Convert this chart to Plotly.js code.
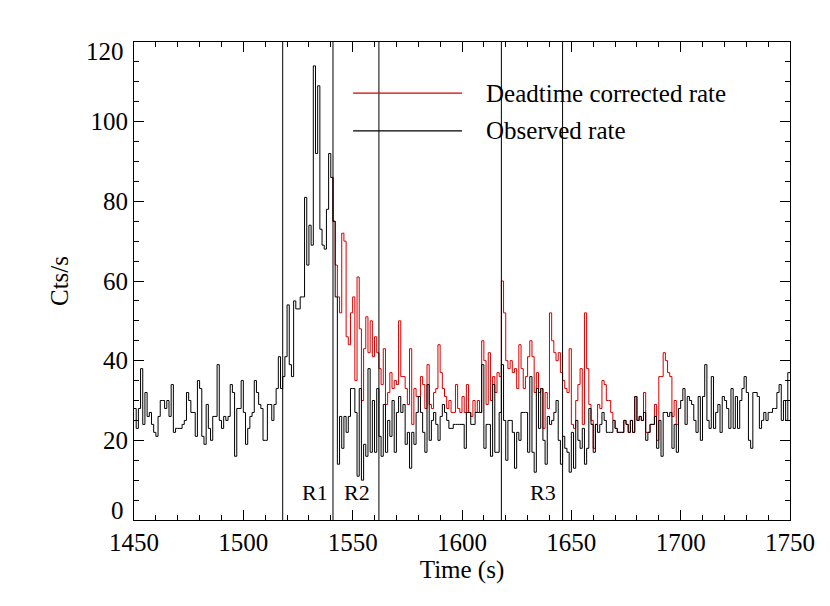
<!DOCTYPE html>
<html>
<head>
<meta charset="utf-8">
<script src="https://cdn.plot.ly/plotly-3.0.1.min.js"></script>
<style>body{margin:0;background:#fff}</style>
</head>
<body>
<div id="chart" style="width:830px;height:606px"></div>
<script>
// Light curve: observed vs deadtime corrected count rate, 1 s bins

const observedStart = 1450;
const observedRate = [
    28, 23, 28, 38, 24, 32, 26, 27, 24, 22,
    21, 26, 30, 30, 28, 30, 26, 34, 22, 23,
    23, 23, 24, 25, 32, 30, 27, 27, 21, 35,
    33, 21, 19, 29, 23, 20, 26, 26, 39, 25,
    23, 26, 25, 26, 34, 32, 16, 28, 28, 35,
    27, 19, 23, 26, 27, 35, 32, 29, 28, 20,
    20, 29, 29, 25, 29, 33, 41, 33, 36, 41,
    54, 39, 36, 55, 53, 53, 56, 56, 81, 64,
    74, 69, 114, 92, 109, 73, 69, 68, 78, 92,
    86, 75, 56, 14, 26, 18, 26, 22, 26, 33,
    33, 27, 11, 33, 10, 19, 16, 38, 17, 30,
    17, 33, 21, 16, 29, 17, 25, 21, 30, 17,
    27, 31, 27, 29, 19, 22, 13, 22, 19, 27,
    31, 27, 22, 17, 34, 20, 25, 27, 24, 20,
    26, 29, 27, 25, 23, 23, 24, 24, 24, 24,
    24, 18, 27, 27, 24, 24, 27, 27, 27, 39,
    18, 24, 24, 16, 34, 17, 17, 27, 39, 25,
    15, 25, 25, 22, 13, 22, 20, 27, 27, 27,
    17, 36, 17, 12, 33, 23, 33, 20, 14, 26,
    24, 25, 27, 30, 20, 14, 21, 18, 17, 12,
    22, 13, 25, 20, 18, 23, 14, 18, 28, 24,
    17, 24, 22, 24, 27, 25, 22, 22, 22, 25,
    23, 22, 22, 22, 25, 24, 22, 25, 22, 31,
    25, 26, 25, 27, 20, 22, 24, 24, 26, 18,
    25, 16, 27, 27, 26, 27, 18, 24, 17, 28,
    30, 33, 24, 31, 30, 29, 25, 22, 31, 20,
    31, 39, 25, 23, 36, 23, 27, 29, 22, 31,
    30, 28, 23, 33, 23, 31, 23, 30, 33, 36,
    32, 20, 18, 32, 32, 31, 23, 25, 27, 25,
    27, 27, 28, 28, 32, 34, 25, 30, 25, 37
];

const correctedStart = 1540;
const correctedRate = [
    86, 75, 64, 56, 52, 72, 70, 46, 44, 52,
    56, 35, 61, 48, 30, 43, 51, 42, 50, 41,
    46, 42, 38, 34, 43, 29, 32, 37, 33, 35,
    34, 50, 36, 36, 33, 29, 43, 24, 33, 31,
    31, 36, 34, 28, 39, 29, 28, 32, 33, 44,
    37, 33, 31, 28, 30, 27, 27, 34, 28, 27,
    31, 27, 34, 27, 26, 30, 27, 30, 27, 45,
    40, 29, 42, 30, 36, 32, 37, 36, 60, 52,
    40, 38, 40, 37, 38, 33, 44, 38, 33, 36,
    41, 45, 41, 32, 37, 32, 33, 23, 32, 28,
    52, 45, 42, 40, 42, 37, 35, 33, 32, 43,
    24, 23, 30, 34, 38, 24, 52, 38, 29, 25,
    18, 24, 29, 28, 35, 34, 30, 30, 27, 25,
    23, 22, 22, 22, 25, 24, 22, 25, 22, 31,
    25, 26, 25, 32, 22, 22, 24, 24, 29, 20,
    36, 36, 42, 40, 37, 36, 26, 30, 24
];

// interval boundaries and their labels
const regionEdges = [1518, 1541, 1562, 1618, 1646];
const regionLabels = ['R1', 'R2', 'R3'];
const regionLabelTimes = [1533, 1552, 1637];
const regionLabelRate = 7;

// y tick labels; the two end ones are pulled inside the frame like the original
const yTickVals = [0, 20, 40, 60, 80, 100, 120];
const yEndTicks = [0, 120];

const seriesNames = ['Deadtime corrected rate', 'Observed rate'];
const seriesColors = ['#d40000', '#000000'];

// bin starts plus one closing edge so the last bin gets drawn
function stepData(start, values) {
    const x = values.map((v, i) => start + i);
    x.push(start + values.length);
    const y = values.concat([values[values.length - 1]]);
    return {x: x, y: y};
}

const red = stepData(correctedStart, correctedRate);
const black = stepData(observedStart, observedRate);

const traces = [
    {x: red.x, y: red.y, mode: 'lines', type: 'scatter', line: {color: seriesColors[0], width: 1, shape: 'hv'}, name: seriesNames[0]},
    {x: black.x, y: black.y, mode: 'lines', type: 'scatter', line: {color: seriesColors[1], width: 1, shape: 'hv'}, name: seriesNames[1]}
];

const serif = 'Liberation Serif, Times New Roman, serif';

const shapes = regionEdges.map(t => ({
    type: 'line', xref: 'x', yref: 'paper', x0: t, x1: t, y0: 0, y1: 1,
    line: {color: '#000', width: 1}
}));

// hand-made legend lines, like the original
const legendY = [0.893, 0.814];
legendY.forEach((ly, i) => {
    shapes.push({
        type: 'line', xref: 'paper', yref: 'paper', x0: 0.334, x1: 0.5, y0: ly, y1: ly,
        line: {color: seriesColors[i], width: 1.2}
    });
});

const annotations = regionLabels.map((lab, i) => ({
    x: regionLabelTimes[i], y: regionLabelRate, xref: 'x', yref: 'y',
    text: lab, showarrow: false, font: {family: serif, size: 22, color: '#000'}
}));
legendY.forEach((ly, i) => {
    annotations.push({
        x: 0.534, y: ly, xref: 'paper', yref: 'paper', xanchor: 'left', yanchor: 'middle',
        text: seriesNames[i], showarrow: false, font: {family: serif, size: 25, color: '#000'}
    });
});
yEndTicks.forEach(v => {
    annotations.push({
        x: 0, y: v, xref: 'paper', yref: 'y', xanchor: 'right',
        yanchor: v === 0 ? 'bottom' : 'top', xshift: -8, yshift: v === 0 ? -6 : 6,
        text: String(v), showarrow: false, font: {family: serif, size: 25, color: '#000'}
    });
});

const axisCommon = {
    showline: true, linecolor: '#000', linewidth: 1, mirror: 'allticks',
    ticks: 'inside', ticklen: 10, tickcolor: '#000', tickwidth: 1,
    showgrid: false, zeroline: false,
    tickfont: {family: serif, size: 25, color: '#000'}
};

const layout = {
    width: 830, height: 606,
    margin: {l: 134, r: 40, t: 42, b: 86},
    paper_bgcolor: '#fff', plot_bgcolor: '#fff',
    showlegend: false,
    xaxis: Object.assign({}, axisCommon, {
        range: [1450, 1750], tick0: 1450, dtick: 50,
        minor: {ticks: 'inside', ticklen: 5, dtick: 10, tickcolor: '#000'},
        title: {text: 'Time (s)', font: {family: serif, size: 25, color: '#000'}, standoff: 4}
    }),
    yaxis: Object.assign({}, axisCommon, {
        range: [0, 120], tickmode: 'array', tickvals: yTickVals,
        ticktext: yTickVals.map(v => yEndTicks.includes(v) ? '' : String(v)),
        minor: {ticks: 'inside', ticklen: 5, dtick: 5, tickcolor: '#000'},
        title: {text: 'Cts/s', font: {family: serif, size: 25, color: '#000'}, standoff: 14}
    }),
    shapes: shapes,
    annotations: annotations
};

Plotly.newPlot('chart', traces, layout, {displayModeBar: false, staticPlot: true});
</script>
</body>
</html>
